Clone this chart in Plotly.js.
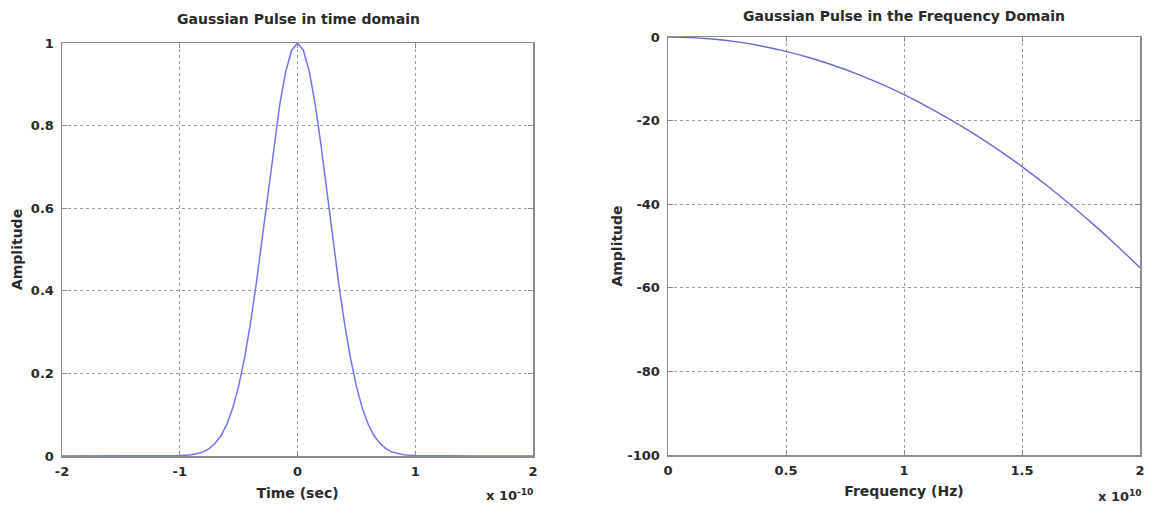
<!DOCTYPE html>
<html>
<head>
<meta charset="utf-8">
<script src="https://cdn.plot.ly/plotly-3.0.1.min.js"></script>
<style>html,body{margin:0;padding:0;background:#fff;}#chart{width:1152px;height:519px;}</style>
</head>
<body>
<div id="chart"></div>
<script>
// Time-domain pulse (x in units of 1e-10 s)
const timeX = [-2, -1.5, -1.0, -0.95, -0.9, -0.85, -0.8, -0.75, -0.7, -0.65, -0.6, -0.55, -0.5, -0.45, -0.4, -0.35, -0.3, -0.25, -0.2, -0.15, -0.1, -0.05, 0,
               0.05, 0.1, 0.15, 0.2, 0.25, 0.3, 0.35, 0.4, 0.45, 0.5, 0.55, 0.6, 0.65, 0.7, 0.75, 0.8, 0.85, 0.9, 0.95, 1.0, 1.5, 2];
const timeY = [0, 0, 0.001, 0.002, 0.003, 0.006, 0.010, 0.018, 0.031, 0.049, 0.077, 0.116, 0.169, 0.237, 0.320, 0.418, 0.527, 0.641, 0.752, 0.852, 0.931, 0.982, 1.0,
               0.982, 0.931, 0.852, 0.752, 0.641, 0.527, 0.418, 0.320, 0.237, 0.169, 0.116, 0.077, 0.049, 0.031, 0.018, 0.010, 0.006, 0.003, 0.002, 0.001, 0, 0];
// Frequency-domain magnitude (x in units of 1e10 Hz), dB
const freqX = [0, 0.1, 0.2, 0.3, 0.4, 0.5, 0.6, 0.7, 0.8, 0.9, 1.0, 1.1, 1.2, 1.3, 1.4, 1.5, 1.6, 1.7, 1.8, 1.9, 2.0];
const freqY = [0, -0.14, -0.55, -1.24, -2.21, -3.45, -4.97, -6.76, -8.83, -11.18, -13.8, -16.7, -19.9, -23.3, -27.0, -31.0, -35.3, -39.9, -44.7, -49.8, -55.2];

const timeTicks = [-2, -1, 0, 1, 2];
const timeTickText = ['-2', '-1', '0', '1', '2'];
const ampTicks = [0, 0.2, 0.4, 0.6, 0.8, 1];
const ampTickText = ['0', '0.2', '0.4', '0.6', '0.8', '1'];
const freqTicks = [0, 0.5, 1, 1.5, 2];
const freqTickText = ['0', '0.5', '1', '1.5', '2'];
const dbTicks = [-100, -80, -60, -40, -20, 0];
const dbTickText = ['-100', '-80', '-60', '-40', '-20', '0'];

const FONT = 'DejaVu Sans, Verdana, sans-serif';
const TXT = '#2a2a2a';
const axisCommon = {
  showline: true, linecolor: '#8c8c8c', linewidth: 1.5, mirror: 'ticks',
  ticks: 'inside', ticklen: 5, tickcolor: '#8c8c8c',
  showgrid: true, gridcolor: '#9a9a9a', griddash: 'dot', gridwidth: 1,
  zeroline: false, tickmode: 'array', layer: 'below traces',
  tickfont: {family: FONT, size: 13, color: TXT, weight: 'bold'},
  fixedrange: true
};

const traces = [
  {x: timeX, y: timeY, type: 'scatter', mode: 'lines', xaxis: 'x', yaxis: 'y',
   line: {color: '#7373f4', width: 1.5}, cliponaxis: false, hoverinfo: 'skip'},
  {x: freqX, y: freqY, type: 'scatter', mode: 'lines', xaxis: 'x2', yaxis: 'y2',
   line: {color: '#6a6ad2', width: 1.4, shape: 'spline'}, hoverinfo: 'skip'}
];

const titleFont = {family: FONT, size: 14, color: TXT, weight: 'bold'};

const layout = {
  width: 1152, height: 519,
  margin: {l: 0, r: 0, t: 0, b: 0},
  paper_bgcolor: '#fff', plot_bgcolor: '#fff',
  showlegend: false,
  font: {family: FONT, color: TXT},
  xaxis: Object.assign({}, axisCommon, {
    domain: [62/1152, 533/1152], anchor: 'y', range: [-2, 2],
    tickvals: timeTicks, ticktext: timeTickText, ticklabelstandoff: 3,
    title: {text: 'Time (sec)', font: titleFont, standoff: 10}
  }),
  yaxis: Object.assign({}, axisCommon, {
    domain: [1 - 456/519, 1 - 43/519], anchor: 'x', range: [0, 1],
    tickvals: ampTicks, ticktext: ampTickText, ticklabelstandoff: 4,
    title: {text: 'Amplitude', font: titleFont, standoff: 5}
  }),
  xaxis2: Object.assign({}, axisCommon, {
    domain: [668/1152, 1140/1152], anchor: 'y2', range: [0, 2],
    tickvals: freqTicks, ticktext: freqTickText, ticklabelstandoff: 3,
    title: {text: 'Frequency (Hz)', font: titleFont, standoff: 9}
  }),
  yaxis2: Object.assign({}, axisCommon, {
    domain: [1 - 455/519, 1 - 37/519], anchor: 'x2', range: [-100, 0],
    tickvals: dbTicks, ticktext: dbTickText, ticklabelstandoff: 4,
    title: {text: 'Amplitude', font: titleFont, standoff: 1}
  }),
  annotations: [
    {text: 'Gaussian Pulse in time domain', xref: 'paper', yref: 'paper',
     x: 298/1152, y: 1 - 19/519, xanchor: 'center', yanchor: 'middle', showarrow: false,
     font: titleFont},
    {text: 'Gaussian Pulse in the Frequency Domain', xref: 'paper', yref: 'paper',
     x: 904/1152, y: 1 - 16/519, xanchor: 'center', yanchor: 'middle', showarrow: false,
     font: titleFont},
    {text: 'x 10<sup>-10</sup>', xref: 'paper', yref: 'paper',
     x: 535/1152, y: 1 - 495/519, xanchor: 'right', yanchor: 'middle', showarrow: false,
     font: {family: FONT, size: 13, color: TXT, weight: 'bold'}},
    {text: 'x 10<sup>10</sup>', xref: 'paper', yref: 'paper',
     x: 1144/1152, y: 1 - 496/519, xanchor: 'right', yanchor: 'middle', showarrow: false,
     font: {family: FONT, size: 13, color: TXT, weight: 'bold'}}
  ]
};

Plotly.newPlot('chart', traces, layout, {displayModeBar: false, staticPlot: true});
</script>
</body>
</html>
